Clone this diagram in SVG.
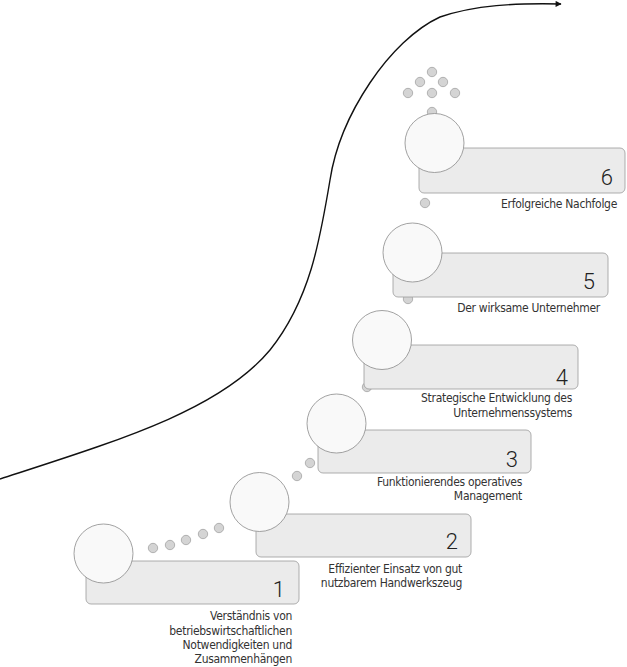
<svg xmlns="http://www.w3.org/2000/svg" width="627" height="667" viewBox="0 0 627 667">
<defs>
<style>
.box{fill:#ebebeb;stroke:#9a9a9a;stroke-width:0.8}
.ball{fill:#f9f9f9;stroke:#8a8a8a;stroke-width:0.8}
.dot{fill:#d4d4d4;stroke:#9a9a9a;stroke-width:0.7}
.num{font-family:Roboto,'DejaVu Sans Condensed',sans-serif;font-weight:300;font-size:22px;fill:#222;text-anchor:end}
.lbl{font-family:'DejaVu Sans Condensed','Liberation Sans',sans-serif;font-size:12px;letter-spacing:-0.3px;fill:#333;text-anchor:end}
.curve{fill:none;stroke:#111;stroke-width:1.4}
</style>
<marker id="arr" viewBox="0 0 10 10" refX="9" refY="5" markerWidth="9" markerHeight="6" markerUnits="userSpaceOnUse" orient="auto">
<path d="M0,0 L10,5 L0,10 Z" fill="#111"/>
</marker>
</defs>
<rect width="627" height="667" fill="#fff"/>
<g id="connectors">
<path class="curve" d="M0,479 C120,440 220,410 270,350 C310,300 320,240 330,180 C340,115 390,40 440,17 C475,5 515,3 561,4" marker-end="url(#arr)"/>
<g id="dots">
<circle class="dot" cx="432" cy="72" r="4.7"/>
<circle class="dot" cx="420" cy="82" r="4.7"/>
<circle class="dot" cx="443" cy="82" r="4.7"/>
<circle class="dot" cx="408" cy="93" r="4.7"/>
<circle class="dot" cx="432" cy="93" r="4.7"/>
<circle class="dot" cx="455" cy="93" r="4.7"/>
<circle class="dot" cx="432" cy="112" r="4.7"/>
<circle class="dot" cx="425" cy="203" r="4.7"/>
<circle class="dot" cx="408" cy="299" r="4.7"/>
<circle class="dot" cx="367" cy="387" r="4.7"/>
<circle class="dot" cx="310" cy="463" r="4.7"/>
<circle class="dot" cx="297" cy="476" r="4.7"/>
<circle class="dot" cx="153" cy="548" r="4.7"/>
<circle class="dot" cx="170" cy="545" r="4.7"/>
<circle class="dot" cx="186" cy="540" r="4.7"/>
<circle class="dot" cx="203" cy="534" r="4.7"/>
<circle class="dot" cx="219" cy="528" r="4.7"/>
</g>
</g>
<g id="step1">
<rect class="box" x="86" y="561" width="213" height="43" rx="5"/>
<circle class="ball" cx="103.5" cy="553.5" r="29.5"/>
<text class="num" x="285" y="597">1</text>
<text class="lbl" x="292" y="620">Verständnis von</text>
<text class="lbl" x="292" y="635">betriebswirtschaftlichen</text>
<text class="lbl" x="292" y="649">Notwendigkeiten und</text>
<text class="lbl" x="292" y="663">Zusammenhängen</text>
</g>
<g id="step2">
<rect class="box" x="256" y="514" width="215" height="43" rx="5"/>
<circle class="ball" cx="259.5" cy="502" r="29.5"/>
<text class="num" x="458" y="549">2</text>
<text class="lbl" x="462" y="573">Effizienter Einsatz von gut</text>
<text class="lbl" x="462" y="587">nutzbarem Handwerkszeug</text>
</g>
<g id="step3">
<rect class="box" x="318" y="430" width="213" height="43" rx="5"/>
<circle class="ball" cx="336.5" cy="423.5" r="29.5"/>
<text class="num" x="518" y="467">3</text>
<text class="lbl" x="522" y="486">Funktionierendes operatives</text>
<text class="lbl" x="522" y="500">Management</text>
</g>
<g id="step4">
<rect class="box" x="364" y="345" width="214" height="44" rx="5"/>
<circle class="ball" cx="382" cy="340" r="29.5"/>
<text class="num" x="568" y="385">4</text>
<text class="lbl" x="572" y="402">Strategische Entwicklung des</text>
<text class="lbl" x="572" y="417">Unternehmenssystems</text>
</g>
<g id="step5">
<rect class="box" x="393" y="253" width="215" height="44" rx="5"/>
<circle class="ball" cx="412.5" cy="252.5" r="29.5"/>
<text class="num" x="595" y="289">5</text>
<text class="lbl" x="600" y="312">Der wirksame Unternehmer</text>
</g>
<g id="step6">
<rect class="box" x="419" y="148" width="206" height="45" rx="5"/>
<circle class="ball" cx="434.5" cy="143" r="29.5"/>
<text class="num" x="613" y="185">6</text>
<text class="lbl" x="617" y="208">Erfolgreiche Nachfolge</text>
</g>
</svg>
